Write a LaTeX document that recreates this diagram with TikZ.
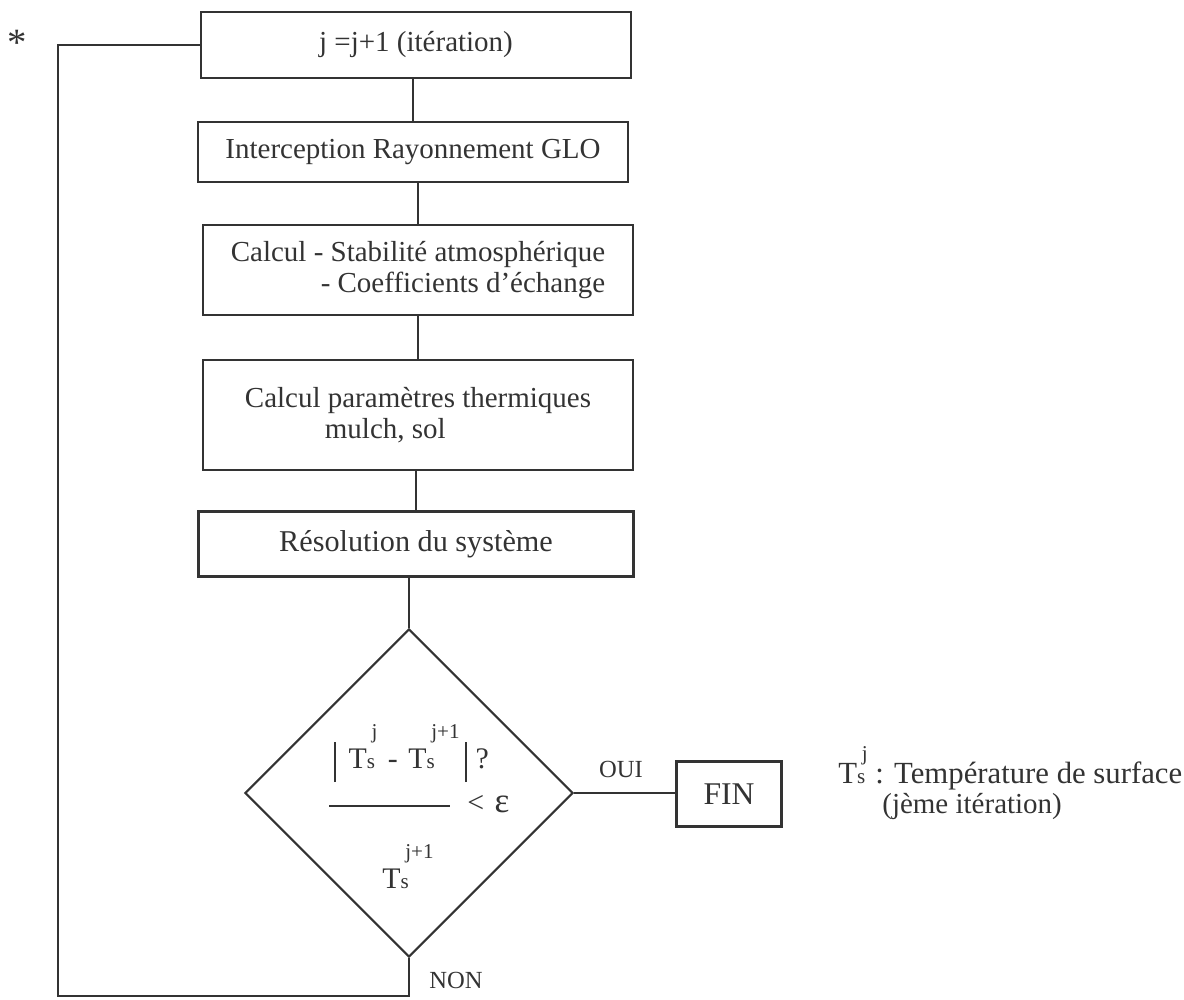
\documentclass[tikz,border=0pt]{standalone}
\usepackage{fontspec}
\setmainfont{Liberation Serif}
\usepackage{tikz}
\usetikzlibrary{shapes.geometric,positioning}
\definecolor{trait}{HTML}{333333}
\newcommand{\Tind}[2][17pt]{T{\fontsize{12}{12}\selectfont s\kern-2pt\raisebox{#1}{#2}}}
\newcommand{\barre}{\rule[-8pt]{1.1pt}{22.6pt}}
\tikzset{
 boite/.style={draw=trait, line width=1.5pt, minimum width=8.6cm, inner sep=0pt, text=trait, font=\fontsize{16.5}{18}\selectfont},
 losange/.style={draw=trait, line width=1.2pt, diamond, minimum width=6.56cm, minimum height=6.56cm, inner sep=0pt},
 lien/.style={draw=trait, line width=1.5pt},
 etiq/.style={text=trait, inner sep=0pt, font=\fontsize{14}{15}\selectfont},
 texte/.style={text=trait, inner sep=0pt, font=\fontsize{17}{18}\selectfont}
}

\begin{document}
\begin{tikzpicture}[x=0.02cm, y=-0.02cm]
\useasboundingbox (0,0) rectangle (1184,1000);
\node[boite, minimum height=1.32cm] (iter) at (416,45) {j =j+1 (itération)};
\node[boite, minimum height=1.2cm] (glo) at (413,152) {Interception Rayonnement GLO};
\node[boite, minimum height=1.8cm, align=right] (stab) at (418,270) {Calcul - Stabilité atmosphérique\\- Coefficients d'échange};
\node[boite, minimum height=2.2cm, align=left] (therm) at (418,415) {Calcul paramètres thermiques\\\hspace{1.6cm}mulch, sol};
\node[boite, minimum height=1.3cm, minimum width=8.7cm, font=\fontsize{17.2}{18}\selectfont] (resol) at (416,544) {Résolution du système};
\node[losange] (test) at (409,793) {};
\node[boite, minimum width=2.1cm, minimum height=1.3cm, font=\fontsize{18}{18}\selectfont] (fin) at (729,794) {FIN};

\foreach \a/\b in {iter/glo,glo/stab,stab/therm,therm/resol,resol/test}
 \draw[lien] (\b.north) -- (\b.north |- \a.south);

\node[texte, anchor=base west] (num) at (334,768) {\barre\kern7pt\Tind{j}\kern6pt-\kern6pt\Tind{j+1}\kern3pt\barre\kern5pt?};
\draw[lien] (329,806) -- (450,806);
\node[texte, anchor=base west] (eps) at (467,812) {<\kern6pt{\fontsize{20}{20}\selectfont ε}};
\node[texte, anchor=base west] (den) at (382,888) {\Tind{j+1}};

\node[etiq, anchor=base] (oui) at (621,777) {OUI};
\node[etiq, anchor=base] (non) at (456,988) {NON};
\draw[lien] (test.east) -- (test.east -| fin.west);

\coordinate (bas) at (409,996);
\coordinate (gauche) at (58,996);
\draw[lien] (test.south) -- (bas) -- (gauche) |- (iter.west);

\node[texte, font=\fontsize{22}{22}\selectfont] (etoile) at (17,43) {*};
\node[texte, anchor=base west, font=\fontsize{17.5}{18}\selectfont] (legende) at (838,783) {\Tind[13pt]{j} : Température de surface};
\node[texte, anchor=base west, font=\fontsize{16.5}{18}\selectfont] (iteme) at (882,813) {(jème itération)};
\end{tikzpicture}
\end{document}
